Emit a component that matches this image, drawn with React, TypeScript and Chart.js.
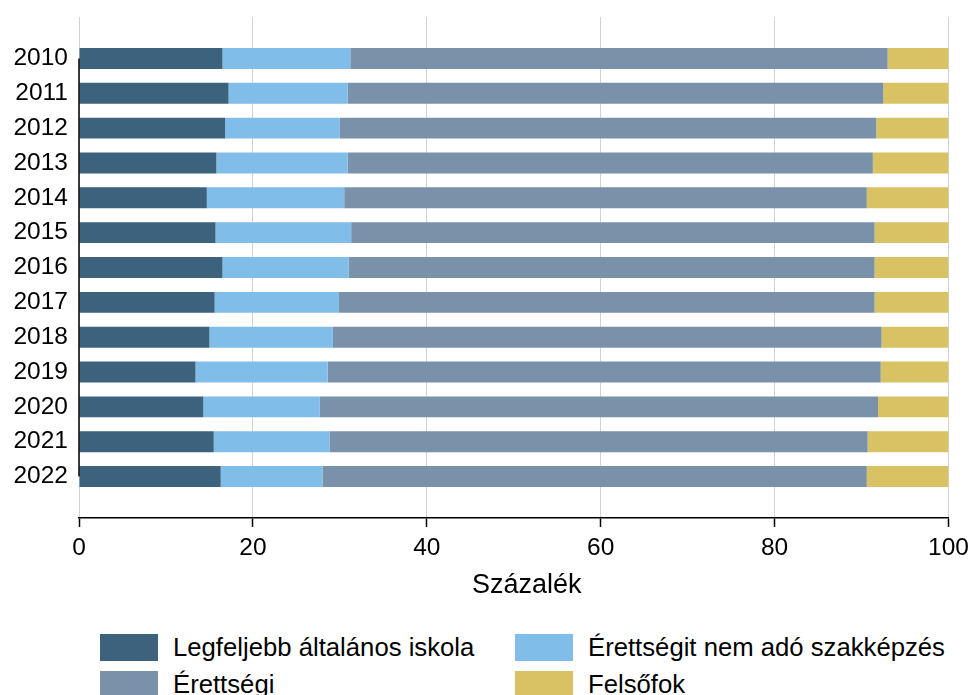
import React, { useEffect, useRef } from 'react';
import { Chart, registerables } from 'chart.js';

Chart.register(...registerables);

const years = ['2010', '2011', '2012', '2013', '2014', '2015', '2016', '2017', '2018', '2019', '2020', '2021', '2022'];
const legfeljebb = [16.5, 17.2, 16.8, 15.8, 14.7, 15.7, 16.5, 15.6, 15.0, 13.4, 14.3, 15.5, 16.3];
const szakkepzes = [14.7, 13.7, 13.2, 15.1, 15.8, 15.6, 14.5, 14.3, 14.2, 15.2, 13.4, 13.3, 11.7];
const erettsegi = [61.8, 61.6, 61.7, 60.4, 60.1, 60.2, 60.5, 61.6, 63.1, 63.6, 64.2, 61.9, 62.6];
const felsofok = [7.0, 7.5, 8.3, 8.7, 9.4, 8.5, 8.5, 8.5, 7.7, 7.8, 8.1, 9.3, 9.4];

const seriesNames = ['Legfeljebb általános iskola', 'Érettségit nem adó szakképzés', 'Érettségi', 'Felsőfok'];
const colors = ['#3d627d', '#81bde9', '#7a92a9', '#d8c263'];
const xTicks = [0, 20, 40, 60, 80, 100];
const xTitle = 'Százalék';

const FONT = '"Liberation Sans", Arial, Helvetica, sans-serif';
const Y_MIN = -1.19;
const Y_MAX = 13.19;

export default function App() {
  const ref = useRef<HTMLCanvasElement>(null);

  useEffect(() => {
    document.body.style.margin = '0';
    const series = [legfeljebb, szakkepzes, erettsegi, felsofok];
    const extras = {
      id: 'extras',
      afterDraw(chart: any) {
        const { ctx, chartArea, scales } = chart;
        const y = scales.y;
        const x = scales.x;
        ctx.save();
        ctx.strokeStyle = '#000';
        ctx.lineWidth = 1.5;
        ctx.beginPath();
        ctx.moveTo(chartArea.left, y.getPixelForValue(0));
        ctx.lineTo(chartArea.left, y.getPixelForValue(years.length - 1));
        ctx.stroke();
        ctx.fillStyle = '#000';
        ctx.font = `27px ${FONT}`;
        ctx.textAlign = 'center';
        ctx.textBaseline = 'middle';
        ctx.fillText(xTitle, x.getPixelForValue(51.5), chartArea.bottom + 68);
        ctx.restore();
      },
    };
    const chart = new Chart(ref.current as HTMLCanvasElement, {
      type: 'bar',
      data: {
        datasets: series.map((vals, si) => ({
          label: seriesNames[si],
          data: vals.map((v, i) => ({ x: v, y: i })),
          backgroundColor: colors[si],
          borderWidth: 0,
          barPercentage: 0.6,
          categoryPercentage: 1,
        })),
      } as any,
      options: {
        indexAxis: 'y',
        animation: false,
        responsive: true,
        maintainAspectRatio: false,
        layout: { padding: { top: 17, right: 20.5, left: 0, bottom: 0 } },
        plugins: { legend: { display: false }, tooltip: { enabled: false } },
        scales: {
          x: {
            type: 'linear',
            stacked: true,
            min: 0,
            max: 100,
            bounds: 'data',
            offset: false,
            afterBuildTicks: (ax: any) => {
              ax.ticks = xTicks.map((v) => ({ value: v }));
              ax.min = 0;
              ax.max = 100;
            },
            ticks: { color: '#000', font: { family: FONT, size: 24.5 }, padding: 7, maxRotation: 0 },
            grid: { color: '#d2d2d2', lineWidth: 1, tickColor: '#000', tickLength: 9, tickWidth: 1.5 },
            border: { display: true, color: '#000', width: 1.5 },
            title: { display: false },
            afterFit: (s: any) => {
              s.height = 92;
              s.paddingLeft = 0;
              s.paddingRight = 0;
            },
          },
          y: {
            type: 'linear',
            stacked: true,
            reverse: true,
            min: Y_MIN,
            max: Y_MAX,
            bounds: 'data',
            offset: false,
            afterBuildTicks: (ax: any) => {
              ax.ticks = years.map((_, i) => ({ value: i }));
              ax.min = Y_MIN;
              ax.max = Y_MAX;
            },
            ticks: {
              color: '#000',
              font: { family: FONT, size: 24.5 },
              padding: 11,
              autoSkip: false,
              callback: (v: any) => years[v] ?? '',
            },
            grid: { display: false, drawTicks: false },
            border: { display: false },
            afterFit: (s: any) => {
              s.width = 79;
              s.paddingTop = 0;
              s.paddingBottom = 0;
            },
          },
        },
      } as any,
      plugins: [extras],
    });
    return () => chart.destroy();
  }, []);

  const item = (i: number, left: number, top: number) => (
    <div
      key={i}
      style={{ position: 'absolute', left, top, display: 'flex', alignItems: 'center', height: 27 }}
    >
      <div style={{ width: 58, height: 27, background: colors[i], marginRight: 15, flex: '0 0 auto' }} />
      <span style={{ fontFamily: FONT, fontSize: 25.7, lineHeight: '27px', color: '#000', whiteSpace: 'nowrap' }}>
        {seriesNames[i]}
      </span>
    </div>
  );

  return (
    <div style={{ position: 'absolute', left: 0, top: 0, width: 969, height: 695, overflow: 'hidden', background: '#fff' }}>
      <div style={{ position: 'absolute', left: 0, top: 0, width: 969, height: 610 }}>
        <canvas ref={ref} />
      </div>
      {item(0, 100, 634)}
      {item(1, 515, 634)}
      {item(2, 100, 671)}
      {item(3, 515, 671)}
    </div>
  );
}
